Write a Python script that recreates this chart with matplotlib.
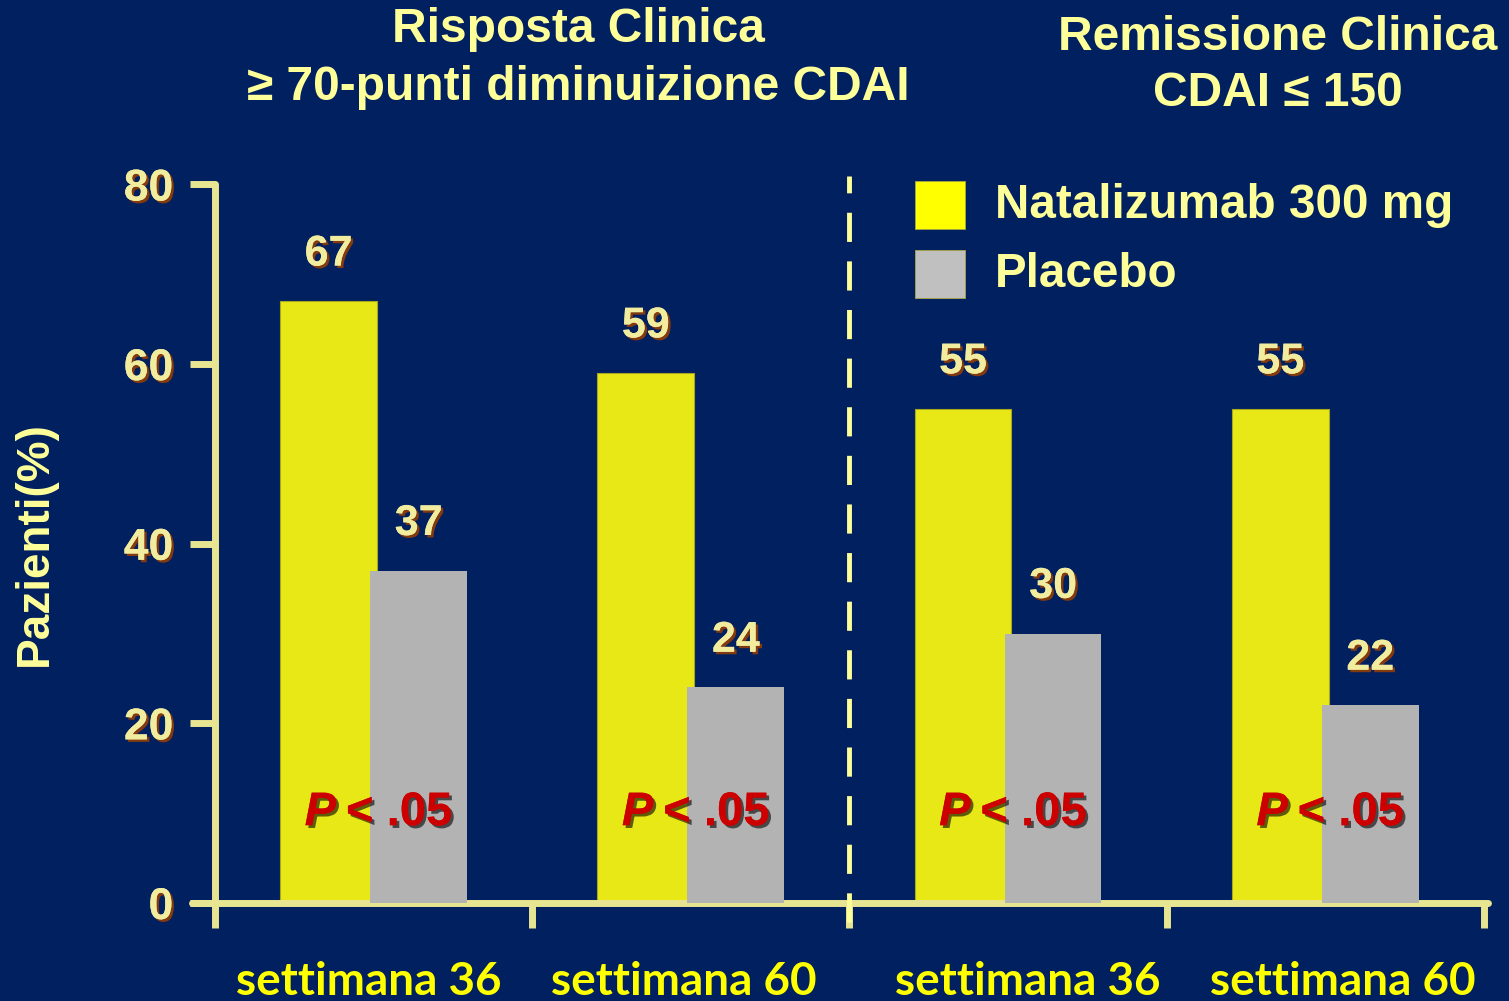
import matplotlib
matplotlib.use("Agg")
import matplotlib.pyplot as plt
import matplotlib.patheffects as pe
from matplotlib.transforms import blended_transform_factory
from matplotlib.patches import Rectangle
import numpy as np

# ---- data ----
groups = ["settimana 36", "settimana 60", "settimana 36", "settimana 60"]
natalizumab = [67, 59, 55, 55]
placebo = [37, 24, 30, 22]
p_labels = ["P < .05", "P < .05", "P < .05", "P < .05"]
yticks = [0, 20, 40, 60, 80]
legend_labels = ["Natalizumab 300 mg", "Placebo"]

BG = "#012060"
AXIS = "#E8E592"
PALE = "#FFFF99"
YEL_BAR = "#E8E817"
GRAY_BAR = "#B3B3B3"
SANS = ["Liberation Sans", "DejaVu Sans"]

fig = plt.figure(figsize=(15.09, 10.01), dpi=100, facecolor=BG)
ax = fig.add_axes([0.1272, 0.0979, 0.8588, 0.7178], facecolor=BG)

x = np.arange(len(groups))
off = 0.142
w = 0.305
ax.bar(x - off, natalizumab, width=w, color=YEL_BAR, edgecolor="#A8A820",
       linewidth=0.8, zorder=2)
ax.bar(x + off, placebo, width=w, color=GRAY_BAR, edgecolor="none", zorder=3)

ax.set_xlim(-0.5725, 3.5126)
ax.set_ylim(0, 80)

# axes styling
for s in ("top", "right"):
    ax.spines[s].set_visible(False)
ax.spines["left"].set_position(("data", -0.5))
for s in ("left", "bottom"):
    ax.spines[s].set_color(AXIS)
    ax.spines[s].set_linewidth(5)
    ax.spines[s].set_capstyle("round")

ax.set_yticks(yticks)
ax.set_yticklabels([str(v) for v in yticks])
ax.set_xticks(np.arange(-0.5, len(groups), 1.0))
ax.set_xticklabels([])
ax.tick_params(axis="both", colors=AXIS, width=5, length=18)
ax.tick_params(axis="y", pad=12)

emboss = [pe.withSimplePatchShadow(offset=(1.8, -1.8), shadow_rgbFace="#8A3C0A",
                                   alpha=0.95), pe.Normal()]
for lab in ax.get_yticklabels():
    lab.set_fontfamily(SANS)
    lab.set_fontweight("bold")
    lab.set_fontsize(32)
    lab.set_color("#F2EC9E")
    lab.set_path_effects(emboss)

ax.set_ylabel("Pazienti(%)", fontsize=33, fontweight="bold", color=PALE,
              family=SANS, va="center")
ax.yaxis.set_label_coords(-0.121, 0.5)

# value labels above bars
for xi, v in zip(x - off, natalizumab):
    ax.text(xi, v + 5.2, str(v), ha="center", va="center", fontsize=31,
            fontweight="bold", family=SANS, color="#F2EC9E",
            path_effects=emboss, zorder=5)
for xi, v in zip(x + off, placebo):
    ax.text(xi, v + 5.2, str(v), ha="center", va="center", fontsize=31,
            fontweight="bold", family=SANS, color="#F2EC9E",
            path_effects=emboss, zorder=5)

# significance labels
pshadow = [pe.withSimplePatchShadow(offset=(2, -2), shadow_rgbFace="#000000",
                                    alpha=0.6), pe.Normal()]
for xi, lab in zip(x, p_labels):
    head, rest = lab.split(" ", 1)
    ax.text(xi - 0.118, 10, head, ha="right", va="center", fontsize=34,
            fontweight="bold", fontstyle="italic", family=SANS,
            color="#CC0000", path_effects=pshadow, zorder=6)
    ax.text(xi - 0.087, 10, rest, ha="left", va="center", fontsize=34,
            fontweight="bold", family=SANS, color="#CC0000",
            path_effects=pshadow, zorder=6)

# dashed separator between the two panels
ax.plot([1.5, 1.5], [-2.1, 81], color="#FFFF99", lw=3.5, linestyle=(0, (6, 4)),
        clip_on=False, zorder=4)

# group labels under the axis
trans = blended_transform_factory(ax.transData, fig.transFigure)
shift = [-0.016, -0.022, 0.063, 0.054]
for xi, g, s in zip(x, groups, shift):
    ax.text(xi + s, 0.019, g, transform=trans, ha="center", va="center",
            fontsize=33, fontweight="bold", family=["Lato", "DejaVu Sans"],
            color="#FFFF00")

# panel titles
TS = 34.5
fig.text(578 / 1509, 1 - 30 / 1001, "Risposta Clinica", ha="center", va="center",
         fontsize=TS, fontweight="bold", family=SANS, color=PALE)
fig.text(578 / 1509, 1 - 87 / 1001, "\u2265 70-punti diminuizione CDAI",
         ha="center", va="center", fontsize=TS, fontweight="bold", family=SANS,
         color=PALE)
fig.text(1278 / 1509, 1 - 38 / 1001, "Remissione Clinica", ha="center",
         va="center", fontsize=TS, fontweight="bold", family=SANS, color=PALE)
fig.text(1278 / 1509, 1 - 94 / 1001, "CDAI \u2264 150", ha="center", va="center",
         fontsize=TS, fontweight="bold", family=SANS, color=PALE)

# legend
legend_colors = ["#FFFF00", "#C0C0C0"]
legend_y = [205, 274]
for lab, c, yy in zip(legend_labels, legend_colors, legend_y):
    fig.patches.append(Rectangle((915 / 1509, 1 - (yy + 24) / 1001), 50 / 1509,
                                 48 / 1001, transform=fig.transFigure,
                                 facecolor=c, edgecolor="#A8A840", lw=0.6))
    fig.text(995 / 1509, 1 - yy / 1001, lab, ha="left", va="center",
             fontsize=34.3, fontweight="bold", family=SANS, color=PALE)

fig.savefig("out.png", dpi=100, facecolor=BG)
